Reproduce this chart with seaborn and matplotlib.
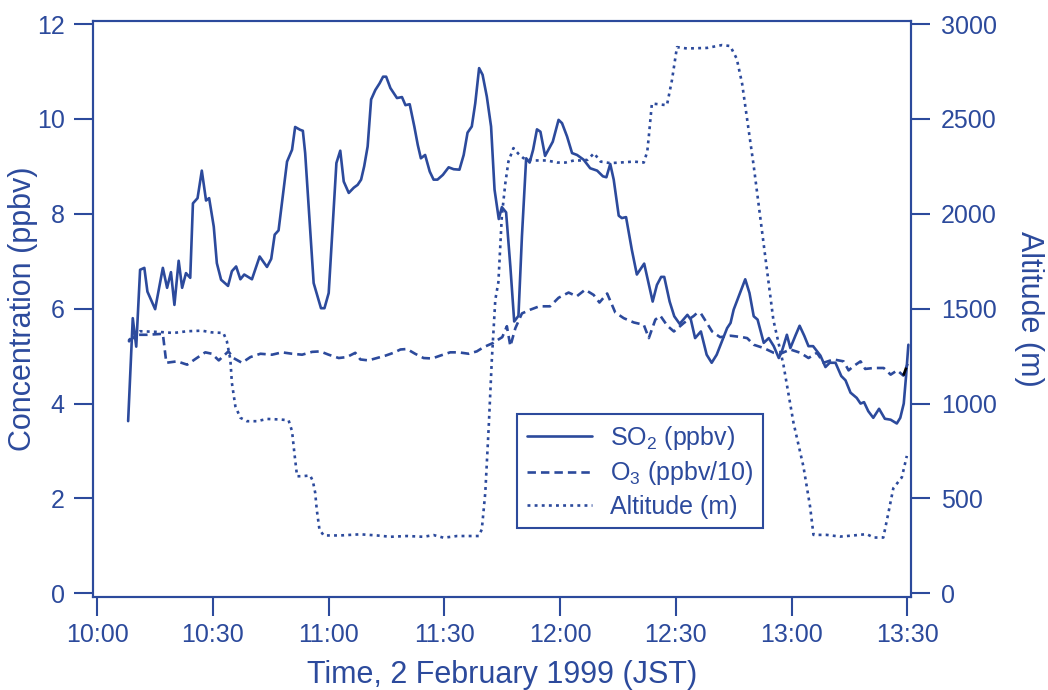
import pandas as pd
import seaborn as sns
import matplotlib
matplotlib.use('Agg')
import matplotlib.pyplot as plt

BLUE = '#2c4a9c'

# time in minutes after 10:00 JST
so2_min = [8.0, 9.2, 10.1, 11.1, 12.2, 13.0, 15.0, 17.0, 18.1, 19.1, 20.0, 21.1, 22.0, 23.0, 24.1,
           24.8, 26.0, 27.1, 28.2, 29.0, 30.2, 31.0, 32.1, 33.9, 34.9, 36.0, 37.1, 38.1, 40.1, 42.1,
           44.0, 45.1, 46.0, 47.0, 49.2, 50.5, 51.3, 52.6, 53.3, 53.9, 56.1, 58.0, 58.9, 60.0, 62.0,
           63.0, 63.9, 65.2, 66.5, 67.5, 68.4, 69.2, 70.1, 71.0, 72.1, 73.2, 74.1, 74.9, 76.0, 77.7,
           79.0, 79.9, 81.0, 82.2, 83.1, 83.9, 85.0, 86.2, 87.2, 88.2, 89.6, 91.1, 92.4, 93.9, 95.0,
           96.0, 97.1, 98.0, 99.0, 99.9, 101.0, 102.1, 103.0, 104.1, 104.9, 106.0, 107.1, 108.1, 109.2,
           110.1, 111.2, 112.1, 113.0, 114.0, 114.9, 116.1, 118.1, 119.6, 120.5, 121.8, 123.1, 124.4,
           126.1, 127.8, 129.6, 131.1, 132.0, 133.0, 133.9, 135.2, 136.0, 137.1, 138.6, 139.9, 141.8,
           144.0, 145.1, 146.2, 147.0, 148.4, 149.6, 151.0, 153.0, 153.9, 155.0, 156.5, 158.0, 159.3,
           160.6, 161.9, 163.3, 164.2, 165.0, 168.0, 169.1, 170.2, 171.2, 172.8, 174.1, 175.4, 176.7,
           177.5, 178.8, 179.7, 181.0, 182.1, 183.3, 184.4, 185.6, 187.5, 188.8, 189.9, 191.4, 192.9,
           194.0, 195.3, 196.9, 197.9, 198.8, 199.9, 201.2, 202.7, 204.2, 205.7, 207.3, 208.2, 209.1,
           209.7, 210.3]
so2_ppbv = [3.63, 5.80, 5.20, 6.82, 6.86, 6.36, 5.99, 6.86, 6.44, 6.77, 6.08, 7.01, 6.44, 6.75, 6.65,
            8.22, 8.33, 8.91, 8.28, 8.33, 7.73, 6.96, 6.61, 6.48, 6.79, 6.89, 6.62, 6.72, 6.62, 7.10,
            6.88, 7.05, 7.56, 7.65, 9.10, 9.35, 9.83, 9.77, 9.75, 9.28, 6.54, 6.01, 6.01, 6.33, 9.07,
            9.33, 8.68, 8.44, 8.55, 8.61, 8.72, 9.00, 9.42, 10.41, 10.61, 10.75, 10.89, 10.89, 10.65, 10.44,
            10.46, 10.29, 10.31, 9.84, 9.45, 9.17, 9.24, 8.89, 8.72, 8.72, 8.82, 8.98, 8.94, 8.93, 9.24,
            9.71, 9.84, 10.33, 11.07, 10.93, 10.47, 9.84, 8.51, 7.89, 8.14, 8.03, 6.89, 5.73, 5.85,
            7.52, 9.17, 9.08, 9.35, 9.78, 9.73, 9.22, 9.52, 9.98, 9.91, 9.63, 9.28, 9.24,
            9.14, 8.96, 8.91, 8.79, 8.77, 9.05, 8.72, 7.96, 7.91, 7.93, 7.24, 6.72, 6.95,
            6.15, 6.50, 6.67, 6.67, 6.15, 5.84, 5.68, 5.87, 5.77, 5.38, 5.52, 5.03, 4.86,
            5.03, 5.30, 5.59, 5.70, 5.98, 6.62, 6.33, 5.84, 5.77, 5.28, 5.38, 5.21, 4.96,
            5.10, 5.45, 5.17, 5.43, 5.64, 5.43, 5.21, 5.21, 5.01, 4.77, 4.86, 4.86, 4.58,
            4.49, 4.23, 4.12, 4.00, 4.03, 3.84, 3.70, 3.89, 3.68, 3.66, 3.58, 3.70, 4.00,
            4.58, 5.24]

o3_min = [8.0, 10.3, 13.0, 17.0, 17.9, 20.7, 23.3, 25.8, 28.0, 29.7, 31.5, 34.0, 35.3, 37.5, 39.7,
          42.3, 45.3, 47.9, 50.5, 53.1, 55.7, 57.8, 60.0, 62.6, 64.7, 66.9, 68.2, 70.3, 72.5, 74.7,
          76.8, 78.6, 80.3, 82.4, 84.6, 86.8, 88.9, 91.5, 93.7, 96.3, 98.4, 100.2, 102.7, 104.0, 105.0,
          106.2, 107.1, 108.4, 110.1, 112.3, 114.6, 117.4, 119.6, 122.2, 124.3, 126.5, 128.7, 130.2,
          132.2, 134.3, 136.5, 139.1, 141.7, 143.0, 144.7, 146.0, 147.8, 149.5, 151.1, 152.1, 154.7,
          155.5, 156.5, 158.2, 159.4, 160.6, 161.5, 164.2, 167.2, 168.5, 170.2, 172.8, 175.4, 177.1,
          179.7, 182.3, 184.4, 186.6, 188.3, 190.9, 193.5, 194.8, 196.1, 197.9, 199.1, 201.3, 203.9,
          205.7, 207.4, 209.0, 210.1]
o3_ppbv10 = [5.30, 5.45, 5.45, 5.47, 4.86, 4.89, 4.82, 4.96, 5.08, 5.05, 4.91, 5.10, 4.96, 4.86, 4.98,
             5.05, 5.03, 5.08, 5.05, 5.03, 5.09, 5.10, 5.03, 4.96, 4.98, 5.07, 4.93, 4.91, 4.96, 5.01,
             5.07, 5.14, 5.15, 5.05, 4.96, 4.95, 5.01, 5.08, 5.08, 5.05, 5.10, 5.19, 5.28, 5.35, 5.40,
             5.63, 5.21, 5.59, 5.90, 5.98, 6.05, 6.05, 6.23, 6.34, 6.26, 6.40, 6.29, 6.13,
             6.32, 5.92, 5.80, 5.71, 5.66, 5.38, 5.77, 5.85, 5.64, 5.52, 5.63, 5.70, 5.85,
             5.91, 5.90, 5.68, 5.52, 5.45, 5.40, 5.43, 5.40, 5.38, 5.24, 5.17, 5.07, 5.05,
             5.14, 5.07, 4.96, 5.07, 4.86, 4.93, 4.89, 4.70, 4.79, 4.89, 4.73, 4.75, 4.75,
             4.61, 4.70, 4.59, 4.84]

alt_min = [8.1, 11.1, 16.3, 19.8, 23.3, 27.1, 29.7, 32.7, 33.6, 34.5, 34.9, 35.8, 37.1, 38.8, 41.4,
           44.0, 47.4, 49.6, 50.5, 51.1, 51.8, 53.1, 55.2, 55.9, 56.5, 56.9, 57.6, 58.7, 63.0, 68.2,
           72.5, 76.0, 80.3, 84.6, 87.2, 89.8, 93.3, 96.7, 98.9, 99.7, 100.6, 101.5, 102.3, 103.2, 104.0,
           104.9, 105.8, 106.6, 107.9, 109.2, 110.5, 113.1, 116.6, 119.2, 121.4, 123.6, 125.3, 127.1,
           128.8, 130.5, 133.0, 135.6, 139.1, 141.7, 142.6, 143.0, 143.8, 147.7, 149.0, 150.3, 152.9,
           158.1, 162.0, 164.1, 165.8, 167.2, 168.5, 170.2, 172.8, 175.3, 177.9, 180.5, 183.1, 184.8,
           185.7, 189.1, 192.6, 196.1, 199.5, 201.3, 203.8, 205.1, 206.4, 208.6, 209.9]
alt_m = [1333, 1381, 1377, 1372, 1381, 1384, 1375, 1372, 1328, 1232, 1109, 986, 925, 907, 907,
         919, 916, 912, 854, 740, 617, 617, 621, 591, 530, 442, 337, 305, 305, 311,
         305, 298, 302, 298, 307, 293, 302, 302, 302, 337, 530, 881, 1232, 1547, 1640,
         1990, 2161, 2275, 2346, 2316, 2293, 2281, 2281, 2270, 2270, 2281, 2281, 2284,
         2319, 2275, 2267, 2270, 2275, 2270, 2328, 2407, 2581, 2572, 2704, 2878, 2871,
         2874, 2889, 2884, 2817, 2685, 2497, 2252, 1837, 1440, 1205, 900, 667, 459,
         308, 308, 299, 305, 312, 294, 294, 422, 554, 611, 724]

tick_min = [0, 30, 60, 90, 120, 150, 180, 210]
tick_lbl = ['10:00', '10:30', '11:00', '11:30', '12:00', '12:30', '13:00', '13:30']

sns.set_style('ticks')
plt.rcParams['font.family'] = ['Liberation Sans', 'DejaVu Sans']
plt.rcParams['mathtext.default'] = 'regular'

so2 = pd.DataFrame({'t': so2_min, 'v': so2_ppbv})
o3 = pd.DataFrame({'t': o3_min, 'v': o3_ppbv10})
alt = pd.DataFrame({'t': alt_min, 'v': alt_m})

fig = plt.figure(figsize=(10.48, 6.9), dpi=100)
ax = fig.add_axes([0.089, 0.1343, 0.7802, 0.8357])
ax2 = ax.twinx()

sns.lineplot(data=so2, x='t', y='v', ax=ax, color=BLUE, lw=1.9, estimator=None, legend=False)
sns.lineplot(data=o3, x='t', y='v', ax=ax, color=BLUE, lw=1.9, estimator=None, legend=False,
             linestyle=(0, (3.2, 1.9)))
sns.lineplot(data=o3.tail(2), x='t', y='v', ax=ax, color='black', lw=1.9, estimator=None,
             legend=False, linestyle=(0, (3.2, 1.9)))
sns.lineplot(data=alt, x='t', y='v', ax=ax2, color=BLUE, lw=1.9, estimator=None, legend=False,
             linestyle=(0, (1.1, 1.6)))

ax.set_xlim(-1.04, 210.96)
ax.set_ylim(-0.084, 12.07)
ax2.set_ylim(-21.1, 3017.4)
ax.set_xticks(tick_min)
ax.set_xticklabels(tick_lbl)
ax.set_yticks(range(0, 13, 2))
ax2.set_yticks(range(0, 3001, 500))

for a in (ax, ax2):
    for s in a.spines.values():
        s.set_visible(True)
        s.set_color(BLUE)
        s.set_linewidth(1.5)
    a.grid(False)
ax.tick_params(axis='both', direction='out', length=13.5, width=1.5, color=BLUE,
               labelcolor=BLUE, labelsize=18)
ax.tick_params(axis='y', pad=7)
ax.tick_params(axis='x', pad=5)
ax2.tick_params(axis='y', direction='out', length=13.5, width=1.5, color=BLUE,
                labelcolor=BLUE, labelsize=18, pad=8)

ax.set_xlabel('Time, 2 February 1999 (JST)', fontsize=22, color=BLUE, labelpad=9)
ax.set_ylabel('Concentration (ppbv)', fontsize=22, color=BLUE, labelpad=-1)
ax2.set_ylabel('Altitude (m)', fontsize=22, color=BLUE, rotation=270, labelpad=34)

handles = [ax.lines[0], ax.lines[1], ax2.lines[0]]
labels = ['SO$_2$ (ppbv)', 'O$_3$ (ppbv/10)', 'Altitude (m)']
leg = ax2.legend(handles, labels, loc='lower left', bbox_to_anchor=(0.5185, 0.1197),
                 borderaxespad=0, frameon=True, fancybox=False, edgecolor=BLUE,
                 framealpha=1, fontsize=18, labelcolor=BLUE, handlelength=2.6,
                 handletextpad=0.75, labelspacing=0.3, borderpad=0.38)
leg.get_frame().set_linewidth(1.5)

fig.savefig('out.png', dpi=100)
